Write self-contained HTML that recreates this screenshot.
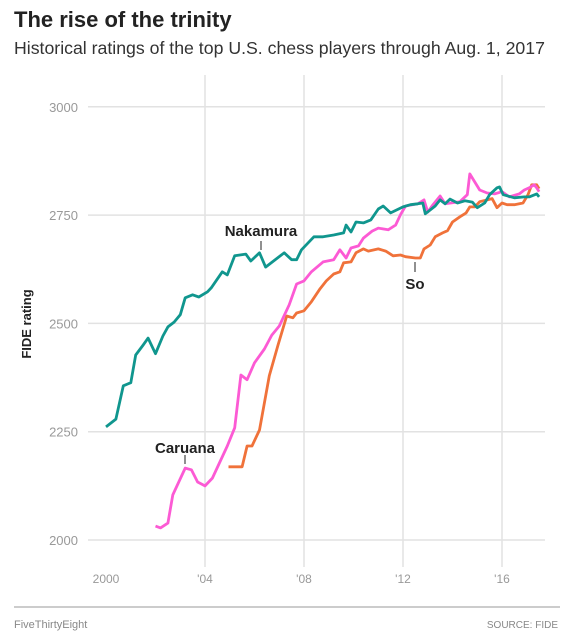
<!DOCTYPE html>
<html><head><meta charset="utf-8"><style>
body{margin:0;background:#fff;width:575px;height:639px;overflow:hidden;font-family:"Liberation Sans",sans-serif}
</style></head><body>
<svg width="575" height="639" xmlns="http://www.w3.org/2000/svg">
<text x="14" y="27" font-size="22" font-weight="bold" fill="#222">The rise of the trinity</text>
<text x="14" y="54" font-size="17.7" fill="#333">Historical ratings of the top U.S. chess players through Aug. 1, 2017</text>
<g id="grid"></g>
<g id="lines"></g>
<text transform="translate(31,324) rotate(-90)" text-anchor="middle" font-size="13" font-weight="bold" fill="#222">FIDE rating</text>
<line x1="14" x2="560" y1="607" y2="607" stroke="#bbb" stroke-width="1.5"/>
<text x="14" y="628" font-size="11" fill="#888">FiveThirtyEight</text>
<text x="558" y="628" font-size="10" fill="#888" text-anchor="end">SOURCE: FIDE</text>
</svg>
<script>
const yTicks=[2000,2250,2500,2750,3000];
const xTicks=[2000,2004,2008,2012,2016];
const xTickLabels=["2000","'04","'08","'12","'16"];
const nakaYears=[2000.0,2000.4,2000.7,2001.0,2001.2,2001.5,2001.7,2002.0,2002.3,2002.5,2002.75,2003.0,2003.2,2003.5,2003.75,2004.1,2004.25,2004.7,2004.9,2005.2,2005.65,2005.85,2006.2,2006.45,2007.2,2007.5,2007.7,2007.9,2008.4,2008.77,2009.2,2009.6,2009.7,2009.9,2010.1,2010.4,2010.7,2011.0,2011.2,2011.5,2012.0,2012.3,2012.6,2012.8,2012.9,2013.3,2013.5,2013.7,2013.9,2014.2,2014.5,2014.8,2015.0,2015.3,2015.5,2015.8,2015.9,2016.05,2016.5,2016.9,2017.1,2017.4,2017.5];
const nakaRatings=[2261,2279,2356,2363,2427,2450,2466,2430,2471,2492,2503,2520,2559,2566,2561,2573,2582,2619,2612,2656,2660,2644,2663,2630,2663,2647,2647,2670,2700,2700,2704,2709,2727,2711,2734,2732,2739,2764,2771,2755,2769,2774,2776,2778,2753,2771,2785,2776,2787,2778,2783,2780,2767,2778,2797,2813,2815,2797,2790,2792,2792,2799,2792];
const caruYears=[2002.0,2002.2,2002.5,2002.7,2003.2,2003.45,2003.7,2004.0,2004.3,2004.9,2005.2,2005.45,2005.7,2006.0,2006.4,2006.7,2007.0,2007.4,2007.7,2008.0,2008.3,2008.77,2009.2,2009.45,2009.7,2009.9,2010.2,2010.4,2010.75,2011.0,2011.4,2011.7,2011.9,2012.1,2012.6,2012.85,2013.0,2013.2,2013.5,2013.7,2014.3,2014.6,2014.7,2015.1,2015.4,2015.7,2016.0,2016.3,2016.7,2016.9,2017.1,2017.3,2017.4,2017.5];
const caruRatings=[2032,2028,2039,2104,2166,2162,2134,2125,2143,2217,2259,2381,2370,2409,2441,2473,2494,2543,2591,2598,2619,2642,2647,2670,2651,2674,2679,2697,2713,2720,2716,2727,2751,2771,2776,2785,2757,2773,2794,2776,2781,2797,2845,2808,2801,2799,2804,2792,2799,2808,2813,2820,2813,2804];
const soYears=[2004.95,2005.5,2005.7,2005.9,2006.2,2006.6,2006.95,2007.3,2007.55,2007.7,2008.0,2008.3,2008.65,2008.9,2009.2,2009.45,2009.6,2009.9,2010.1,2010.4,2010.6,2011.0,2011.3,2011.6,2011.9,2012.1,2012.5,2012.7,2012.85,2013.1,2013.3,2013.6,2013.8,2014.0,2014.3,2014.55,2014.7,2014.9,2015.1,2015.4,2015.6,2015.8,2016.0,2016.2,2016.5,2016.85,2017.05,2017.2,2017.4,2017.5];
const soRatings=[2169,2169,2217,2217,2254,2379,2450,2517,2513,2524,2529,2550,2580,2598,2614,2619,2640,2642,2663,2672,2667,2672,2667,2656,2658,2654,2651,2651,2672,2681,2700,2709,2714,2734,2746,2755,2769,2769,2781,2785,2788,2767,2778,2774,2774,2778,2797,2820,2820,2811];
const NS="http://www.w3.org/2000/svg";
const xS=y=>106+(y-2000)*24.75;
const yS=r=>540-(r-2000)*0.4332;
function mk(tag,attrs,parent){const e=document.createElementNS(NS,tag);for(const k in attrs)e.setAttribute(k,attrs[k]);parent.appendChild(e);return e;}
const grid=document.getElementById('grid');
yTicks.forEach(t=>{
  const l=mk('line',{x1:88,x2:545,y1:yS(t),y2:yS(t),stroke:'#e2e2e2','stroke-width':1.5},grid);
  
  
  const tx=mk('text',{x:78,y:yS(t)+5,'text-anchor':'end','font-size':13,fill:'#999'},grid);
  tx.textContent=t;
  
  
});
xTicks.forEach((t,i)=>{
  if(i>0){const l=mk('line',{x1:xS(t),x2:xS(t),y1:75,y2:567,stroke:'#e2e2e2','stroke-width':1.5},grid);
  
  }
  const tx=mk('text',{x:xS(t),y:583,'text-anchor':'middle','font-size':12,fill:'#999'},grid);
  tx.textContent=xTickLabels[i];
  
  
});
const lines=document.getElementById('lines');
function series(xs,ys,color,name){
  const d=xs.map((x,i)=>(i?'L':'M')+xS(x).toFixed(1)+','+yS(ys[i]).toFixed(1)).join('');
  const p=mk('path',{d:d,fill:'none',stroke:color,'stroke-width':2.8,'stroke-linejoin':'round'},lines);
  
  
}
series(soYears,soRatings,'#f0723a','so-line');
series(caruYears,caruRatings,'#fc5ad4','caruana-line');
series(nakaYears,nakaRatings,'#10968e','nakamura-line');
function label(txt,x,y,ly1,ly2,name){
  const t=mk('text',{x:x,y:y,'text-anchor':'middle','font-size':15,'font-weight':'bold',fill:'#222'},lines);
  t.textContent=txt;
  
  
  const l=mk('line',{x1:x,x2:x,y1:ly1,y2:ly2,stroke:'#222','stroke-width':1},lines);
  
  
}
label('Nakamura',261,236,241,250,'nakamura-label');
label('Caruana',185,453,455,464,'caruana-label');
label('So',415,289,262,272,'so-label');
</script>
</body></html>
